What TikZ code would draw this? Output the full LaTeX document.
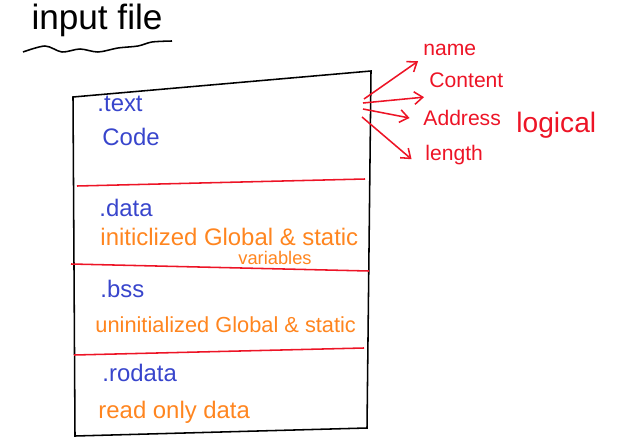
\documentclass[tikz,border=0pt]{standalone}
\usepackage{fontspec}
\setmainfont{Liberation Sans}
\usetikzlibrary{arrows.meta}
\definecolor{penblue}{rgb}{0.22, 0.27, 0.80}
\definecolor{penorange}{rgb}{1.0, 0.52, 0.12}
\definecolor{penred}{rgb}{0.93, 0.08, 0.15}

\begin{document}
\begin{tikzpicture}[x=0.025cm,y=-0.025cm,line width=1.1pt,
  secname/.style={penblue,anchor=west,font=\fontsize{17}{17}\selectfont},
  secinfo/.style={penorange,anchor=west,font=\fontsize{17}{17}\selectfont},
  attr/.style={penred,anchor=west,font=\fontsize{15}{15}\selectfont},
  pen/.style={penred,-{Straight Barb[length=6pt,width=9pt]}}]
\useasboundingbox (0,0) rectangle (642,446);
% the file box
\coordinate (tl) at (73,97);
\coordinate (tr) at (371,71);
\coordinate (br) at (367,428);
\coordinate (bl) at (75,436);
\draw (tl) -- (tr) -- (br) -- (bl) -- cycle;
\draw[penred] (77,186) -- (365,179);
\draw[penred] (71,264) -- (369,271);
\draw[penred] (74,355) -- (364,348);
% title
\node (title) at (97,20) {\fontsize{25}{25}\selectfont input file};
\draw plot[smooth] coordinates {(23,52) (45,46) (62,52) (80,49) (98,52) (118,48) (138,46) (152,42) (172,41)};
% sections
\node[secname] (text) at (92,104) {.text};
\node[secname] (code) at (97,137) {Code};
\node[secname] (data) at (94,208) {.data};
\node[secinfo] (init) at (95,237) {initiclized Global \& static};
\node[secinfo,anchor=center,font=\fontsize{13}{13}\selectfont] (vars) at (275,258) {variables};
\node[secname] (bss) at (95,289) {.bss};
\node[secinfo,font=\fontsize{15.5}{15.5}\selectfont] (uninit) at (90,325) {uninitialized Global \& static};
\node[secname] (rodata) at (97,373) {.rodata};
\node[secinfo] (ro) at (93,412) {read only data};
% section header fields
\node[attr] (name) at (418,50) {name};
\node[attr] (content) at (424,80) {Content};
\node[attr] (address) at (418,118) {Address};
\node[attr] (length) at (420,155) {length};
\node[attr,font=\fontsize{20}{20}\selectfont] (logical) at (511,125) {logical};
\coordinate (s1) at (364,99);
\coordinate (s2) at (363,103);
\coordinate (s3) at (363,109);
\coordinate (s4) at (362,117);
\draw[pen] (s1) -- (name.south west);
\draw[pen] (s2) -- ([yshift=-3pt]content.south west);
\draw[pen] (s3) -- ([xshift=-6pt]address.west);
\draw[pen] (s4) -- ([xshift=-6pt,yshift=-3pt]length.west);
\end{tikzpicture}
\end{document}
